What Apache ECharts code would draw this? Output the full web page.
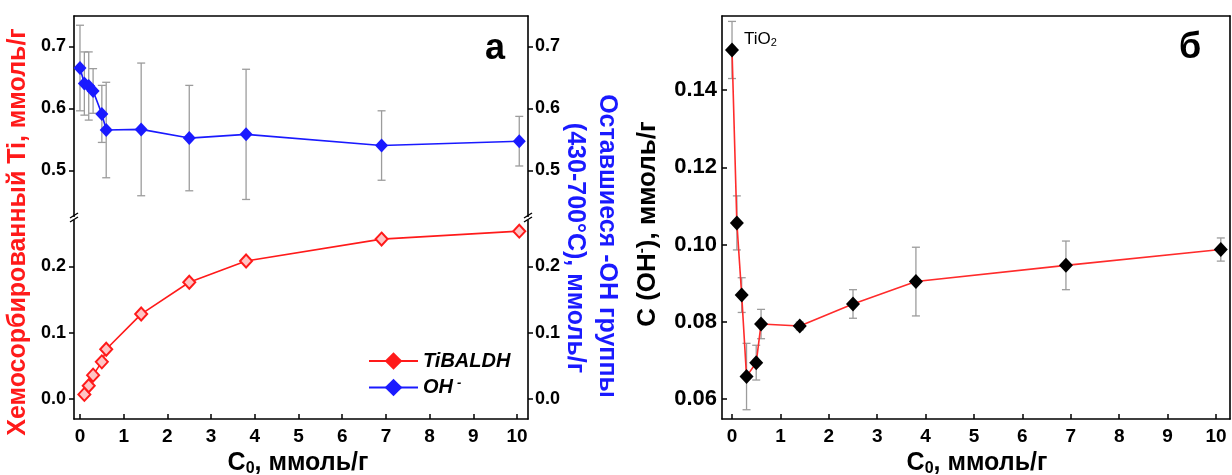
<!DOCTYPE html>
<html>
<head>
<meta charset="utf-8">
<script src="https://cdn.jsdelivr.net/npm/echarts@6/dist/echarts.min.js"></script>
<style>
  html, body { margin: 0; padding: 0; background: #fff; }
  #chart { width: 1232px; height: 475px; }
</style>
</head>
<body>
<div id="chart"></div>
<script>
// Panel "а": chemisorbed Ti (TiBALDH) and remaining OH groups vs. C0
const tiX = [0.1, 0.2, 0.3, 0.5, 0.6, 1.4, 2.5, 3.8, 6.9, 10.05];
const tiValues = [0.007, 0.020, 0.036, 0.056, 0.075, 0.128, 0.176, 0.208, 0.241, 0.253];

const ohX = [0, 0.1, 0.2, 0.3, 0.5, 0.6, 1.4, 2.5, 3.8, 6.9, 10.05];
const ohValues = [0.665, 0.640, 0.636, 0.628, 0.591, 0.565, 0.566, 0.552, 0.558, 0.540, 0.547];
const ohErrors = [0.069, 0.051, 0.055, 0.036, 0.046, 0.077, 0.107, 0.085, 0.105, 0.056, 0.040];

// Panel "б": C(OH-) vs. C0
const cX = [0, 0.1, 0.2, 0.3, 0.5, 0.6, 1.4, 2.5, 3.8, 6.9, 10.1];
const cValues = [0.1504, 0.1056, 0.0869, 0.0658, 0.0694, 0.0794, 0.0789, 0.0846, 0.0904, 0.0946, 0.0987];
const cErrors = [0.0074, 0.0070, 0.0045, 0.0086, 0.0045, 0.0038, 0.0010, 0.0037, 0.0089, 0.0063, 0.0030];

// Tick labels
const xTicks = [0, 1, 2, 3, 4, 5, 6, 7, 8, 9, 10];
const upperTicks = [0.5, 0.6, 0.7];
const lowerTicks = [0.0, 0.1, 0.2];
const cTicks = [0.06, 0.08, 0.10, 0.12, 0.14];

const FONT = '"Liberation Sans", Arial, sans-serif';
const RED = '#ff1a1a';
const BLUE = '#1a1aff';
const GREY = '#9c9c9c';

// layout of the two panels
const A = { left: 74, right: 528, top: 16, brk: 219, bottom: 419 };
const B = { left: 722, right: 1230, top: 16, bottom: 419 };

const chart = echarts.init(document.getElementById('chart'), null, { renderer: 'canvas' });

function pairs(xs, ys) { return xs.map((x, i) => [x, ys[i]]); }
function errRows(xs, ys, es) { return xs.map((x, i) => [x, ys[i] - es[i], ys[i] + es[i]]); }

function errorBar(params, api) {
  const x = api.value(0);
  const lo = api.coord([x, api.value(1)]);
  const hi = api.coord([x, api.value(2)]);
  const w = 4;
  const style = { stroke: GREY, lineWidth: 1.3 };
  return {
    type: 'group',
    children: [
      { type: 'line', shape: { x1: hi[0], y1: hi[1], x2: lo[0], y2: lo[1] }, style },
      { type: 'line', shape: { x1: hi[0] - w, y1: hi[1], x2: hi[0] + w, y2: hi[1] }, style },
      { type: 'line', shape: { x1: lo[0] - w, y1: lo[1], x2: lo[0] + w, y2: lo[1] }, style }
    ]
  };
}

const lineAxis = { show: true, onZero: false, lineStyle: { color: '#000', width: 1.6 } };

function valueAxis(gridIndex, min, max, opts) {
  return Object.assign({
    type: 'value', gridIndex, min, max,
    axisLine: lineAxis, splitLine: { show: false }
  }, opts);
}

function labelStyle(size, fmt, values, margin) {
  return {
    show: true, customValues: values, color: '#000', fontFamily: FONT,
    fontWeight: 'bold', fontSize: size, formatter: fmt, margin
  };
}

function tickStyle(values, inside) {
  return { show: true, customValues: values, inside, length: 5, lineStyle: { color: '#000', width: 1.5 } };
}

const fmt1 = v => v.toFixed(1);
const fmt2 = v => v.toFixed(2);
const fmt0 = v => String(Math.round(v));

function title(x, y, rotation, text, size, color, rich) {
  return {
    type: 'text', x, y, rotation,
    style: Object.assign({
      text, fontFamily: FONT, fontWeight: 'bold', fontSize: size, fill: color,
      align: 'center', verticalAlign: 'middle'
    }, rich ? { rich } : {})
  };
}

const c0Rich = {
  a: { fontFamily: FONT, fontWeight: 'bold', fontSize: 25, color: '#000' },
  s: { fontFamily: FONT, fontWeight: 'bold', fontSize: 16, color: '#000', padding: [11, 0, 0, 0] }
};

const option = {
  animation: false,
  backgroundColor: '#fff',
  grid: [
    { left: A.left, top: A.top, width: A.right - A.left, height: A.brk - A.top, outerBoundsMode: 'none' },
    { left: A.left, top: A.brk, width: A.right - A.left, height: A.bottom - A.brk, outerBoundsMode: 'none' },
    { left: B.left, top: B.top, width: B.right - B.left, height: B.bottom - B.top, outerBoundsMode: 'none' }
  ],
  xAxis: [
    valueAxis(0, -0.137, 10.25, { position: 'top', axisTick: { show: false }, axisLabel: { show: false } }),
    valueAxis(1, -0.137, 10.25, {
      position: 'bottom',
      axisTick: tickStyle(xTicks, true),
      axisLabel: labelStyle(19, fmt0, xTicks, 8)
    }),
    valueAxis(2, -0.207, 10.29, {
      position: 'bottom',
      axisTick: tickStyle(xTicks, true),
      axisLabel: labelStyle(19, fmt0, xTicks, 8)
    }),
    valueAxis(2, -0.207, 10.29, { position: 'top', axisTick: { show: false }, axisLabel: { show: false } })
  ],
  yAxis: [
    valueAxis(0, 0.4215, 0.7489, {
      position: 'left', axisTick: tickStyle(upperTicks, false),
      axisLabel: labelStyle(18, fmt1, upperTicks, 8)
    }),
    valueAxis(0, 0.4215, 0.7489, {
      position: 'right', axisTick: tickStyle(upperTicks, false),
      axisLabel: labelStyle(18, fmt1, upperTicks, 7)
    }),
    valueAxis(1, -0.0301, 0.2713, {
      position: 'left', axisTick: tickStyle(lowerTicks, false),
      axisLabel: labelStyle(18, fmt1, lowerTicks, 8)
    }),
    valueAxis(1, -0.0301, 0.2713, {
      position: 'right', axisTick: tickStyle(lowerTicks, false),
      axisLabel: labelStyle(18, fmt1, lowerTicks, 7)
    }),
    valueAxis(2, 0.0548, 0.1592, {
      position: 'left', axisTick: tickStyle(cTicks, true),
      axisLabel: labelStyle(22, fmt2, cTicks, 5)
    }),
    valueAxis(2, 0.0548, 0.1592, { position: 'right', axisTick: { show: false }, axisLabel: { show: false } })
  ],
  legend: {
    left: 363, top: 346, orient: 'vertical',
    itemWidth: 49, itemHeight: 22, itemGap: 6,
    data: [
      { name: 'TiBALDH', itemStyle: { color: RED, borderColor: RED, borderWidth: 0 } },
      { name: 'OH-' }
    ],
    textStyle: {
      fontFamily: FONT, fontSize: 20, fontWeight: 'bold', fontStyle: 'italic', color: '#000',
      rich: {
        m: { fontFamily: FONT, fontSize: 20, fontWeight: 'bold', fontStyle: 'italic', color: '#000' },
        s: { fontFamily: FONT, fontSize: 13, fontWeight: 'bold', color: '#000', verticalAlign: 'top', padding: [0, 0, 8, 4] }
      }
    },
    formatter: name => name === 'OH-' ? '{m|OH}{s|-}' : '{m|' + name + '}'
  },
  series: [
    {
      type: 'custom', name: 'ohErr', xAxisIndex: 0, yAxisIndex: 0,
      renderItem: errorBar, data: errRows(ohX, ohValues, ohErrors),
      encode: { x: 0, y: [1, 2] }, z: 1, silent: true
    },
    {
      type: 'line', name: 'OH-', xAxisIndex: 0, yAxisIndex: 0,
      data: pairs(ohX, ohValues), color: BLUE,
      symbol: 'diamond', symbolSize: [13, 14],
      lineStyle: { color: BLUE, width: 1.6 },
      itemStyle: { color: BLUE }, z: 3
    },
    {
      type: 'line', name: 'TiBALDH', xAxisIndex: 1, yAxisIndex: 2,
      data: pairs(tiX, tiValues), color: RED,
      symbol: 'diamond', symbolSize: [12, 13],
      lineStyle: { color: RED, width: 1.6 },
      itemStyle: { color: '#ffc4c4', borderColor: RED, borderWidth: 2 }, z: 3
    },
    {
      type: 'custom', name: 'cErr', xAxisIndex: 2, yAxisIndex: 4,
      renderItem: errorBar, data: errRows(cX, cValues, cErrors),
      encode: { x: 0, y: [1, 2] }, z: 1, silent: true
    },
    {
      type: 'line', name: 'C(OH-)', xAxisIndex: 2, yAxisIndex: 4,
      data: pairs(cX, cValues).map((p, i) => i === 0 ? {
        value: p,
        label: {
          show: true, position: 'right', distance: 5, offset: [0, -11],
          formatter: '{a|TiO}{b|2}',
          rich: {
            a: { fontFamily: FONT, fontSize: 17, fontWeight: 500, color: '#000' },
            b: { fontFamily: FONT, fontSize: 11, fontWeight: 500, color: '#000', verticalAlign: 'bottom', padding: [8, 0, 0, 0] }
          }
        }
      } : p),
      symbol: 'diamond', symbolSize: [14, 15],
      lineStyle: { color: '#ff2b2b', width: 1.6 },
      itemStyle: { color: '#000' }, z: 3
    }
  ],
  graphic: [
    // panel letters
    title(495, 49, 0, 'а', 36, '#000'),
    title(1190, 48, 0, 'б', 36, '#000'),
    // axis titles, panel а
    title(18, 232, Math.PI / 2, 'Хемосорбированный Ti, ммоль/г', 25, RED),
    title(607, 246, -Math.PI / 2, 'Оставшиеся -OH группы', 25, BLUE),
    title(575, 248, -Math.PI / 2, '(430-700°C), ммоль/г', 25, BLUE),
    title(298, 463, 0, '{a|C}{s|0}{a|, ммоль/г}', 25, '#000', c0Rich),
    // axis titles, panel б
    title(648, 224, Math.PI / 2, '{a|C (OH}{s|-}{a|), ммоль/г}', 26, '#000', {
      a: { fontFamily: FONT, fontWeight: 'bold', fontSize: 26, color: '#000' },
      s: { fontFamily: FONT, fontWeight: 'bold', fontSize: 15, color: '#000', padding: [0, 0, 12, 0] }
    }),
    title(977, 463, 0, '{a|C}{s|0}{a|, ммоль/г}', 25, '#000', c0Rich),
    // axis break marks on panel а
    ...[A.left, A.right].flatMap(x => [
      { type: 'rect', shape: { x: x - 2, y: A.brk - 2, width: 4, height: 3 }, style: { fill: '#fff' }, z: 100 },
      { type: 'line', shape: { x1: x - 4, y1: A.brk - 1, x2: x + 4, y2: A.brk - 6 }, style: { stroke: '#000', lineWidth: 1.4 }, z: 101 },
      { type: 'line', shape: { x1: x - 4, y1: A.brk + 3, x2: x + 4, y2: A.brk - 2 }, style: { stroke: '#000', lineWidth: 1.4 }, z: 101 }
    ])
  ]
};

chart.setOption(option);
</script>
</body>
</html>
